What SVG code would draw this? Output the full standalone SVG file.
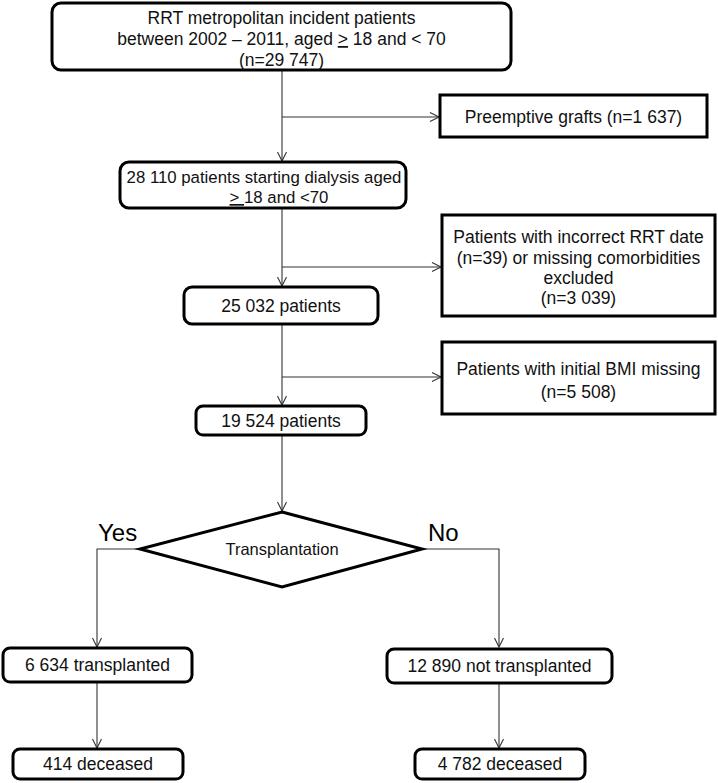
<svg xmlns="http://www.w3.org/2000/svg" width="718" height="783" viewBox="0 0 718 783">
<style>
  .bx { fill: #fff; stroke: #000; stroke-width: 3; }
  .t { font-family: "Liberation Sans", Arial, sans-serif; font-size: 17.5px; fill: #111; text-anchor: middle; }
  .lbl { font-family: "Liberation Sans", Arial, sans-serif; font-size: 24px; fill: #000; }
  .c { fill: none; stroke: #333; stroke-width: 1.1; }
  .u { text-decoration: underline; }
</style>
<defs>
  <marker id="ah" markerUnits="userSpaceOnUse" markerWidth="12" markerHeight="12" refX="10" refY="5" orient="auto">
    <path d="M1,0.5 L10,5 L1,9.5" fill="none" stroke="#333" stroke-width="1.1"/>
  </marker>
</defs>
<rect width="718" height="783" fill="#fff"/>

<g id="connectors">
  <line class="c" x1="282" y1="70" x2="282" y2="161" marker-end="url(#ah)"/>
  <line class="c" x1="282" y1="117" x2="439" y2="117" marker-end="url(#ah)"/>
  <line class="c" x1="282" y1="208" x2="282" y2="286" marker-end="url(#ah)"/>
  <line class="c" x1="282" y1="267" x2="441" y2="267" marker-end="url(#ah)"/>
  <line class="c" x1="282" y1="324" x2="282" y2="405" marker-end="url(#ah)"/>
  <line class="c" x1="282" y1="377" x2="441" y2="377" marker-end="url(#ah)"/>
  <line class="c" x1="282" y1="435" x2="282" y2="511" marker-end="url(#ah)"/>
  <polyline class="c" points="140,549 97,549 97,647" marker-end="url(#ah)"/>
  <polyline class="c" points="422,549 499,549 499,647" marker-end="url(#ah)"/>
  <line class="c" x1="97" y1="682" x2="97" y2="748" marker-end="url(#ah)"/>
  <line class="c" x1="499" y1="683" x2="499" y2="748" marker-end="url(#ah)"/>
</g>

<g id="n1">
  <rect class="bx" x="52" y="3" width="459" height="67" rx="9"/>
  <text class="t" x="281.5" y="24">RRT metropolitan incident patients</text>
  <text class="t" x="281.5" y="45">between 2002 – 2011, aged <tspan class="u">&gt;</tspan> 18 and &lt; 70</text>
  <text class="t" x="281.5" y="66">(n=29 747)</text>
</g>

<g id="n_preemptive">
  <rect class="bx" x="440" y="95" width="267" height="42"/>
  <text class="t" x="573.5" y="123">Preemptive grafts (n=1 637)</text>
</g>

<g id="n2">
  <rect class="bx" x="120" y="162" width="286" height="46" rx="9"/>
  <text class="t" x="264" y="183" style="font-size:16.8px">28 110 patients starting dialysis aged</text>
  <text class="t" x="279" y="203" style="font-size:16.8px"><tspan class="u">&gt; </tspan>18 and &lt;70</text>
</g>

<g id="n_excl2">
  <rect class="bx" x="442" y="215" width="273" height="101"/>
  <text class="t" x="578.5" y="243">Patients with incorrect RRT date</text>
  <text class="t" x="578.5" y="264">(n=39) or missing comorbidities</text>
  <text class="t" x="578.5" y="284">excluded</text>
  <text class="t" x="578.5" y="304">(n=3 039)</text>
</g>

<g id="n3">
  <rect class="bx" x="184" y="287" width="194" height="37" rx="8"/>
  <text class="t" x="281" y="312">25 032 patients</text>
</g>

<g id="n_excl3">
  <rect class="bx" x="442" y="342" width="273" height="72"/>
  <text class="t" x="578.5" y="375">Patients with initial BMI missing</text>
  <text class="t" x="578.5" y="398">(n=5 508)</text>
</g>

<g id="n4">
  <rect class="bx" x="196" y="406" width="170" height="29" rx="7"/>
  <text class="t" x="281" y="427">19 524 patients</text>
</g>

<g id="decision">
  <polygon points="282,512 422,549 282,587 140,549" fill="#fff" stroke="#000" stroke-width="3" stroke-linejoin="miter"/>
  <text class="t" x="282" y="555" style="font-size:16.5px">Transplantation</text>
</g>

<g id="lbl_yes"><text class="lbl" x="98" y="541">Yes</text></g>
<g id="lbl_no"><text class="lbl" x="428" y="541">No</text></g>

<g id="n_tx">
  <rect class="bx" x="3" y="648" width="189" height="34" rx="7"/>
  <text class="t" x="97.5" y="671">6 634 transplanted</text>
</g>

<g id="n_notx">
  <rect class="bx" x="387" y="649" width="225" height="34" rx="7"/>
  <text class="t" x="499.5" y="672">12 890 not transplanted</text>
</g>

<g id="n_dec1">
  <rect class="bx" x="13" y="749" width="170" height="30" rx="7"/>
  <text class="t" x="98" y="770">414 deceased</text>
</g>

<g id="n_dec2">
  <rect class="bx" x="415" y="749" width="170" height="30" rx="7"/>
  <text class="t" x="500" y="770">4 782 deceased</text>
</g>
</svg>
